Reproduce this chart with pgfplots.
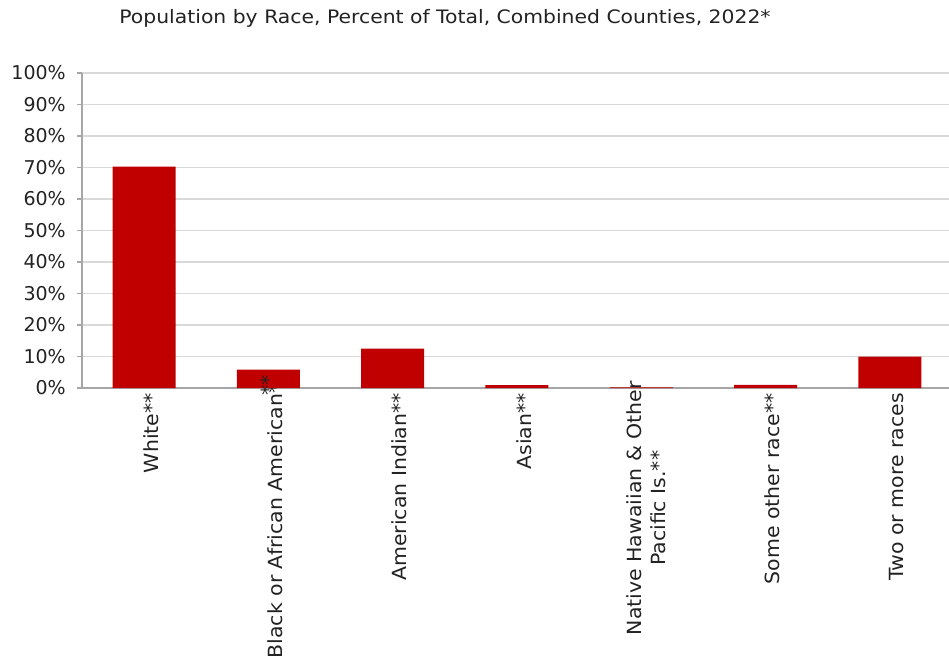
\documentclass[border=0pt]{standalone}
\usepackage{pgfplots}
\pgfplotsset{compat=1.18}
\usepackage{fontspec}
\setmainfont{DejaVu Sans}
\newfontfamily\widefont[FakeStretch=1.05]{DejaVu Sans}
\newfontfamily\titlefont[FakeStretch=1.1]{DejaVu Sans}
\definecolor{barred}{HTML}{C00000}
\definecolor{gridgray}{HTML}{D9D9D9}
\definecolor{axisgray}{HTML}{A6A6A6}
\definecolor{txt}{HTML}{222222}

\begin{document}
\begin{tikzpicture}
\begin{axis}[
    at={(0pt,0pt)}, anchor=south west,
    scale only axis,
    width=867pt, height=315pt,
    xmin=-0.5, xmax=6.476,
    ymin=0, ymax=100,
    ytick={0,10,...,100},
    yticklabel={\pgfmathprintnumber[assume math mode=true]{\tick}\%},
    ymajorgrids,
    grid style={gridgray, line width=1.2pt},
    axis x line*=bottom,
    axis y line*=left,
    axis line style={axisgray, line width=1.2pt},
    tick style={axisgray, line width=1.2pt},
    major tick length=5pt,
    minor tick length=5pt,
    tick align=outside,
    xtick={0,...,6},
    x tick style={draw=none},
    minor xtick={-0.5,0.5,...,6.5},
    minor x tick style={axisgray, line width=1.2pt},
    xticklabels={White**, Black or African American**\kern-20pt\null, American Indian**, Asian**,
        {\begin{tabular}{@{}c@{}}Native Hawaiian \& Other\\Pacific Is.**\end{tabular}\kern-12pt\null},
        Some other race**, Two or more races},
    xticklabel style={rotate=90, anchor=east, font=\widefont\fontsize{19.5}{24}\selectfont, text=txt, inner sep=0pt, yshift=-7pt},
    yticklabel style={font=\fontsize{19}{22}\selectfont, text=txt, inner sep=0pt, xshift=-11pt},
    enlargelimits=false,
    clip=false,
]
\addplot[ybar, bar width=63pt, fill=barred, draw=none] coordinates {
(0, 70.3)
(1, 5.8)
(2, 12.5)
(3, 0.9)
(4, 0.2)
(5, 1.0)
(6, 10.0)
};
\end{axis}
% the stars of the second label sit on its bar, as in the reference
\node[rotate=90, anchor=east, inner sep=0pt, text=txt, font=\widefont\fontsize{19.5}{24}\selectfont]
    at (1.5*867pt/6.976+1*867pt/6.976-867pt/6.976, -7pt) {\phantom{Black or African American}**\kern-20pt\null};
\node[text=txt, font=\titlefont\fontsize{18.5}{22}\selectfont] at (363pt,370pt) {Population by Race, Percent of Total, Combined Counties, 2022*};
\pgfresetboundingbox
\path[use as bounding box] (-82pt,-271pt) rectangle (867pt,388pt);
\end{tikzpicture}
\end{document}
